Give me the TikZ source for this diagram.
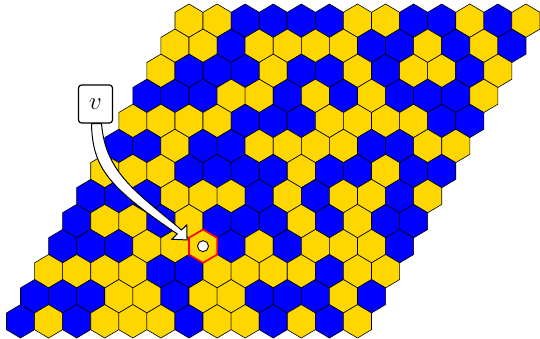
\documentclass[tikz,border=0pt]{standalone}
\usepackage{tikz}
\usepackage{xcolor}
\usetikzlibrary{calc}
\definecolor{hexy}{HTML}{FFD700}
\definecolor{hexb}{HTML}{0000FF}
\definecolor{markred}{HTML}{FF0000}
\tikzset{
  cell/.style={draw=black, line width=0.6pt, line join=round},
  markcell/.style={draw=markred, line width=1.6pt, fill=hexy, line join=round},
  stone/.style={circle, draw=black, line width=0.9pt, fill=white,
                minimum size=11pt, inner sep=0pt},
  lbl/.style={draw=black, line width=1.2pt, rounded corners=3pt, fill=white,
              minimum width=34pt, minimum height=38pt, inner sep=0pt, font=\Huge},
  pointer/.style={draw=black, line width=1pt, fill=white, line join=miter},
}

\begin{document}
\begin{tikzpicture}[x=1pt, y=-1pt]
  \useasboundingbox (0,0) rectangle (540,338);
  \foreach \i/\row in {0/{y,y,b,b,b,b,y,y,b,b,y,b,y},
                       1/{y,y,b,y,y,y,y,b,b,y,b,y,b},
                       2/{y,b,b,b,y,b,b,y,b,y,y,b,y},
                       3/{b,b,b,y,y,b,y,b,y,b,b,b,y},
                       4/{y,y,y,y,b,b,b,y,y,y,y,b,b},
                       5/{b,b,y,b,b,y,y,y,y,b,b,y,y},
                       6/{y,y,y,b,b,b,b,y,b,b,y,b,b},
                       7/{b,b,b,y,y,y,b,y,b,y,y,b,y},
                       8/{b,y,y,b,y,b,b,b,y,b,y,b,b},
                       9/{b,b,b,y,y,y,b,y,b,y,y,y,b},
                       10/{y,y,y,y,b,b,y,y,y,y,b,y,y},
                       11/{b,b,b,y,y,b,y,y,b,b,b,y,b},
                       12/{b,y,b,y,y,y,b,y,y,b,y,b,y}}{
    \foreach \c [count=\j from 0] in \row {
      \pgfmathsetmacro\cx{189+28.08*\j-14.04*\i}
      \pgfmathsetmacro\cy{20.7+25.05*\i}
      \coordinate (h\i-\j) at (\cx,\cy);
      \draw[cell, fill=hex\c] (h\i-\j) +(0,-16.7) -- +(14.04,-8.35) -- +(14.04,8.35)
        -- +(0,16.7) -- +(-14.04,8.35) -- +(-14.04,-8.35) -- cycle;
    }
  }
  \draw[markcell] (h9-5) +(0,-16.7) -- +(14.04,-8.35) -- +(14.04,8.35)
    -- +(0,16.7) -- +(-14.04,8.35) -- +(-14.04,-8.35) -- cycle;
  \node[stone] (st) at (h9-5) {};

  \node[lbl] (vbox) at (95.5,104) {$v$};
  \coordinate (p1) at ($(vbox.south)+(-4,0)$);
  \coordinate (p2) at ($(vbox.south)+(6,0)$);
  \coordinate (tip) at ($(h9-5)+(-16,-6.2)$);
  \coordinate (ha) at ($(h9-5)+(-16.3,-21.2)$);
  \coordinate (hb) at ($(h9-5)+(-31.3,-6.9)$);
  \coordinate (hl) at ($(ha)!0.63!(hb)$);
  \coordinate (hr) at ($(ha)!0.35!(hb)$);
  \draw[pointer] (p1) .. controls ($(p1)+(1,44)$) and (108,187) .. (hl)
    -- (hb) -- (tip) -- (ha) -- (hr)
    .. controls (138,193) and ($(p2)+(4,50)$) .. (p2) -- cycle;
\end{tikzpicture}
\end{document}
